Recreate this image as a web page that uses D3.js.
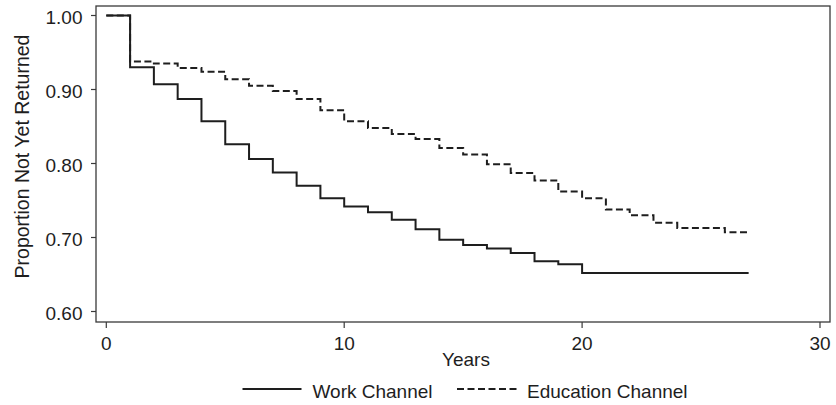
<!DOCTYPE html>
<html>
<head>
<meta charset="utf-8">
<script src="https://cdn.jsdelivr.net/npm/d3@7"></script>
<style>
  html, body { margin: 0; padding: 0; background: #fff; }
  svg { display: block; font-family: "Liberation Sans", Arial, Helvetica, sans-serif; }
</style>
</head>
<body>
<svg id="chart" width="836" height="405"></svg>
<script>
// Kaplan–Meier style step curves: proportion not yet returned by year
const years = d3.range(0, 28); // 0 .. 27

// value held from year i to year i+1 (last entry is the end point at year 27)
const workChannel = [
  1.000, 0.930, 0.907, 0.887, 0.857, 0.826, 0.806, 0.788, 0.770, 0.753,
  0.742, 0.734, 0.724, 0.711, 0.697, 0.690, 0.685, 0.679, 0.668, 0.664,
  0.652, 0.652, 0.652, 0.652, 0.652, 0.652, 0.652, 0.652
];
const educationChannel = [
  1.000, 0.938, 0.935, 0.929, 0.924, 0.914, 0.905, 0.898, 0.887, 0.872,
  0.857, 0.848, 0.840, 0.833, 0.821, 0.812, 0.799, 0.787, 0.777, 0.762,
  0.753, 0.738, 0.730, 0.720, 0.713, 0.713, 0.707, 0.707
];

const xTicks = [0, 10, 20, 30];
const yTicks = [0.6, 0.7, 0.8, 0.9, 1.0];
const seriesNames = ["Work Channel", "Education Channel"];

const svg = d3.select("#chart");
const box = { left: 96, right: 830, top: 6, bottom: 322 };

const x = d3.scaleLinear().domain([0, 30]).range([106.3, 820]);
const y = d3.scaleLinear().domain([0.6, 1.0]).range([311.5, 15.5]);

const ink = "#1e1e1e";
const fontSize = 19;

// plot region outline
svg.append("rect")
  .attr("x", box.left).attr("y", box.top)
  .attr("width", box.right - box.left).attr("height", box.bottom - box.top)
  .attr("fill", "none").attr("stroke", "#3a3a3a").attr("stroke-width", 1.3);

// y axis ticks and labels
const yAxis = svg.append("g");
yAxis.selectAll("line").data(yTicks).join("line")
  .attr("x1", box.left - 5).attr("x2", box.left)
  .attr("y1", d => y(d)).attr("y2", d => y(d))
  .attr("stroke", "#3a3a3a").attr("stroke-width", 1.2);
yAxis.selectAll("text").data(yTicks).join("text")
  .attr("x", 82.5).attr("y", d => y(d) + 8.3)
  .attr("text-anchor", "end")
  .attr("font-size", fontSize).attr("fill", ink)
  .text(d3.format(".2f"));

// x axis ticks and labels
const xAxis = svg.append("g");
xAxis.selectAll("line").data(xTicks).join("line")
  .attr("x1", d => x(d)).attr("x2", d => x(d))
  .attr("y1", box.bottom).attr("y2", box.bottom + 6)
  .attr("stroke", "#3a3a3a").attr("stroke-width", 1.2);
xAxis.selectAll("text").data(xTicks).join("text")
  .attr("x", d => x(d)).attr("y", 350)
  .attr("text-anchor", "middle")
  .attr("font-size", fontSize).attr("fill", ink)
  .text(d => d);

// axis titles
svg.append("text")
  .attr("x", 466).attr("y", 365.5)
  .attr("text-anchor", "middle")
  .attr("font-size", fontSize).attr("fill", ink)
  .text("Years");
svg.append("text")
  .attr("transform", "translate(29,156.5) rotate(-90)")
  .attr("text-anchor", "middle")
  .attr("font-size", fontSize + 0.5).attr("fill", ink)
  .text("Proportion Not Yet Returned");

// step curves
const step = d3.line()
  .x((d, i) => x(years[i]))
  .y(d => y(d))
  .curve(d3.curveStepAfter);

svg.append("path")
  .datum(workChannel)
  .attr("d", step)
  .attr("fill", "none").attr("stroke", ink).attr("stroke-width", 2);

svg.append("path")
  .datum(educationChannel)
  .attr("d", step)
  .attr("fill", "none").attr("stroke", ink).attr("stroke-width", 2)
  .attr("stroke-dasharray", "7,3.5");

// legend
const legendY = 389;
const legend = svg.append("g");
const legendItems = [
  { name: seriesNames[0], x0: 242.5, x1: 301.5, tx: 312.5, dash: null },
  { name: seriesNames[1], x0: 457, x1: 518.5, tx: 527, dash: "7,3.5" }
];
legendItems.forEach(it => {
  legend.append("line")
    .attr("x1", it.x0).attr("x2", it.x1)
    .attr("y1", legendY).attr("y2", legendY)
    .attr("stroke", ink).attr("stroke-width", 2)
    .attr("stroke-dasharray", it.dash);
  legend.append("text")
    .attr("x", it.tx).attr("y", 398.3)
    .attr("font-size", fontSize).attr("fill", ink)
    .text(it.name);
});
</script>
</body>
</html>
